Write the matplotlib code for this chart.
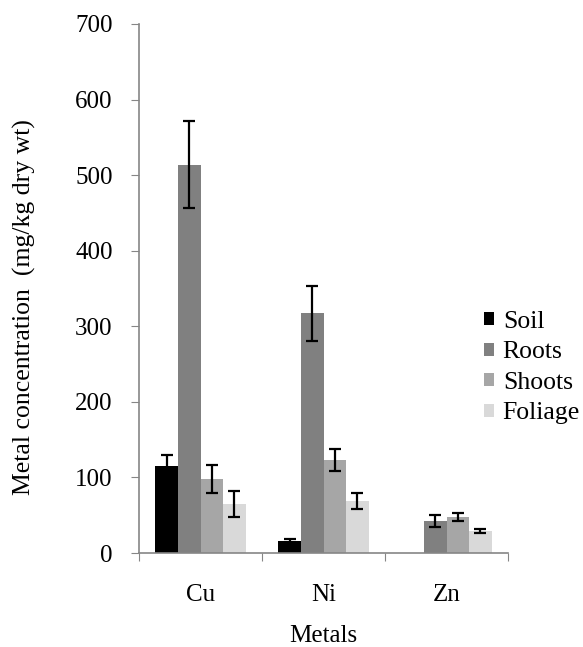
import numpy as np
import matplotlib
matplotlib.use("Agg")
import matplotlib.pyplot as plt

# data
metals = ["Cu", "Ni", "Zn"]
series = ["Soil", "Roots", "Shoots", "Foliage"]
soil = [115, 16, 0]
roots = [514, 317, 42]
shoots = [98, 123, 48]
foliage = [65, 69, 29]
soil_err = [15, 3, 0]
roots_err = [58, 36, 8]
shoots_err = [19, 15, 5]
foliage_err = [17, 11, 3]

colors = ["#000000", "#808080", "#a6a6a6", "#d9d9d9"]
axis_gray = "#868686"

plt.rcParams["font.family"] = ["Liberation Serif", "DejaVu Serif"]

fig = plt.figure(figsize=(5.83, 6.47), dpi=100)
ax = fig.add_axes([139 / 583, 1 - 553 / 647, (508 - 139) / 583, (553 - 24) / 647])

x = np.arange(len(metals))
w = 0.183
values = [soil, roots, shoots, foliage]
errs = [soil_err, roots_err, shoots_err, foliage_err]
for i, (vals, err) in enumerate(zip(values, errs)):
    pos = x + (i - 1.5) * w
    ax.bar(pos, vals, width=w, color=colors[i], label=series[i], zorder=2)
    # skip error bars where there is no bar
    keep = [j for j in range(len(vals)) if vals[j] > 0]
    ax.errorbar(pos[keep], [vals[j] for j in keep], yerr=[err[j] for j in keep],
                fmt="none", ecolor="black", elinewidth=1.6, capsize=4.5,
                capthick=1.6, zorder=3)

ax.set_xlim(-0.5, 2.5)
ax.set_ylim(0, 700)
ax.set_yticks(range(0, 701, 100))
ax.set_xticks([-0.5, 0.5, 1.5, 2.5], minor=False)
ax.set_xticklabels([])
ax.set_xticks(x, minor=True)
ax.set_xticklabels(metals, minor=True)
ax.tick_params(axis="x", which="minor", length=0, pad=22, labelsize=18)
ax.tick_params(axis="x", which="major", length=6, color=axis_gray, direction="out")
ax.tick_params(axis="y", length=6, color=axis_gray, direction="out", labelsize=18, pad=13)

for s in ["top", "right"]:
    ax.spines[s].set_visible(False)
for s in ["left", "bottom"]:
    ax.spines[s].set_color(axis_gray)
    ax.spines[s].set_linewidth(1.2)

ax.set_ylabel("Metal concentration  (mg/kg dry wt)", fontsize=18.5)
ax.yaxis.set_label_coords(-0.279, 0.464)
ax.set_xlabel("Metals", fontsize=18, labelpad=14)

ax.legend(loc="upper left", bbox_to_anchor=(484 / 583, 1 - 311 / 647),
          bbox_transform=fig.transFigure, frameon=False, fontsize=18.5,
          handlelength=0.4, handleheight=0.4, handletextpad=0.33,
          labelspacing=0.33, borderpad=0, borderaxespad=0)

fig.savefig("out.png", dpi=100)
